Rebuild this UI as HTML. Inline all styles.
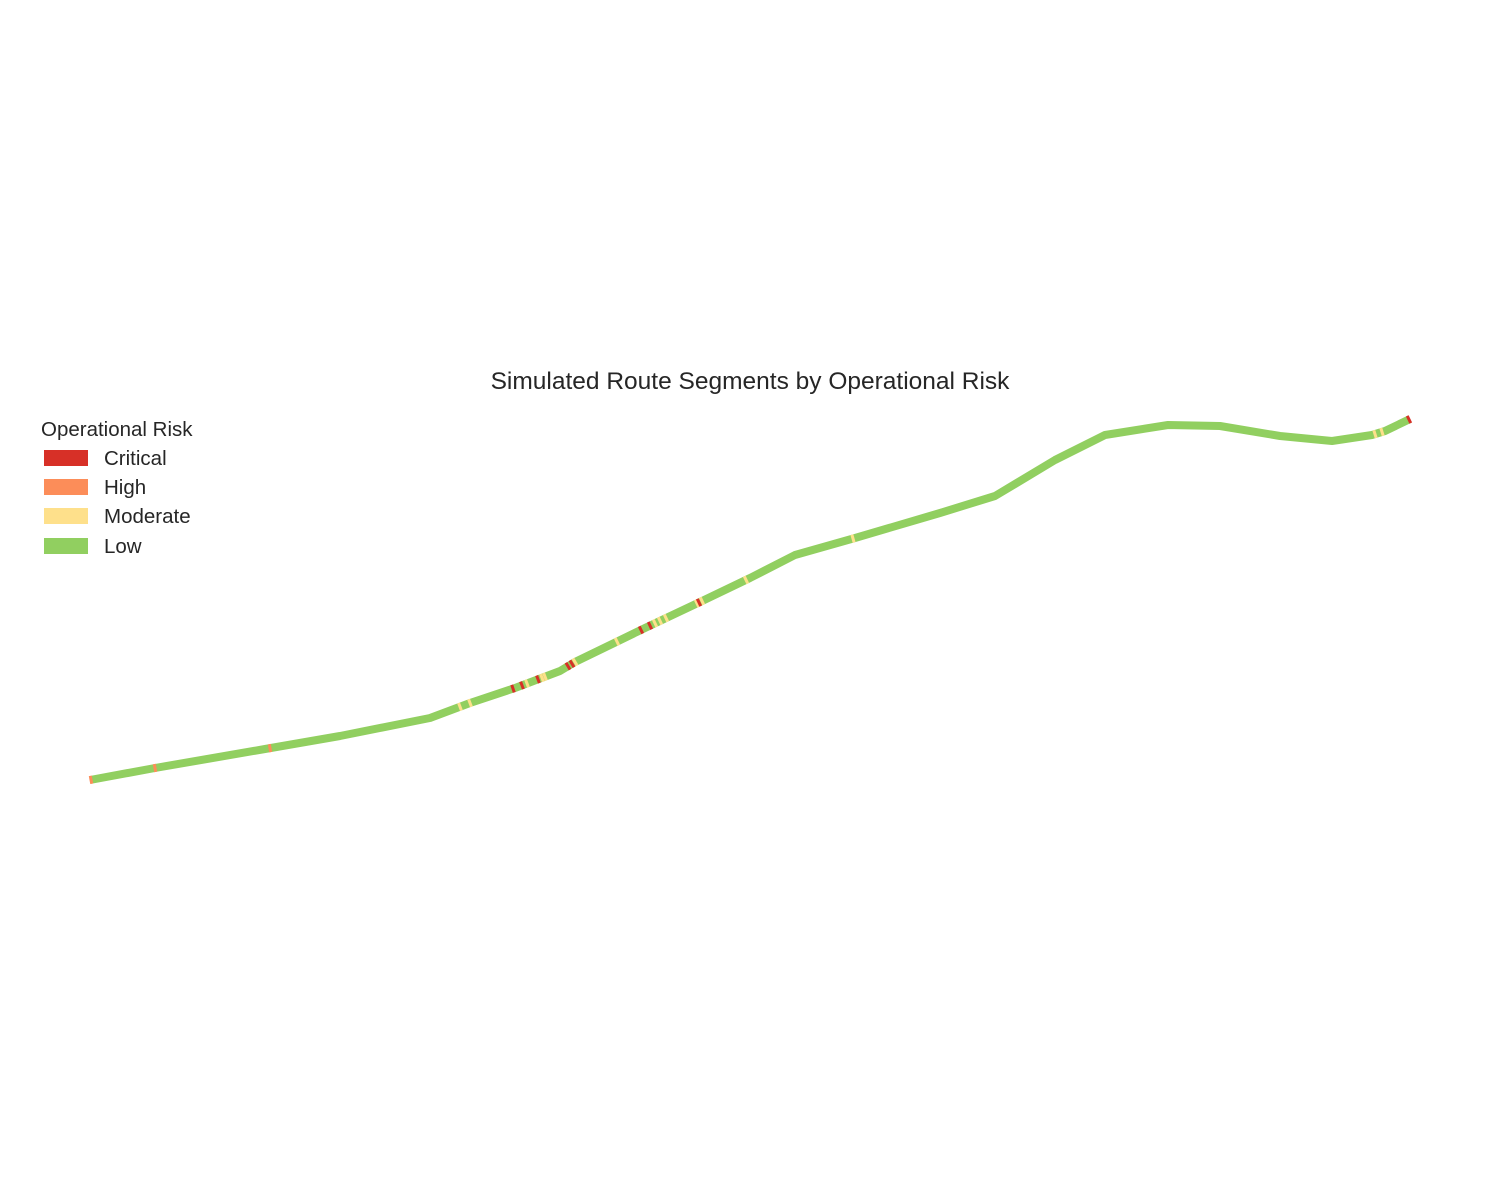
<!DOCTYPE html>
<html><head><meta charset="utf-8"><style>
body{margin:0;background:#fff;}
svg{display:block;font-family:"Liberation Sans",Arial,sans-serif;}
</style></head><body>
<svg id="chart" width="1500" height="1200">
<rect width="1500" height="1200" fill="#fff"/>
<text x="750" y="389" text-anchor="middle" font-size="24.5" fill="#262626">Simulated Route Segments by Operational Risk</text>
<g id="route"></g>
<g>
<text x="41" y="436" font-size="20.5" fill="#262626">Operational Risk</text>
<rect x="44" y="450" width="44" height="16" fill="#d73027"/>
<text x="104" y="465" font-size="20.5" fill="#262626">Critical</text>
<rect x="44" y="479" width="44" height="16" fill="#fc8d59"/>
<text x="104" y="494" font-size="20.5" fill="#262626">High</text>
<rect x="44" y="508" width="44" height="16" fill="#fee08b"/>
<text x="104" y="523" font-size="20.5" fill="#262626">Moderate</text>
<rect x="44" y="538" width="44" height="16" fill="#91cf60"/>
<text x="104" y="553" font-size="20.5" fill="#262626">Low</text>
</g>
</svg>
<script>
const routeX=[90,155,265,340,430,470,515,560,575,645,700,750,795,855,940,995,1055,1105,1168,1220,1280,1332,1372,1385,1410];
const routeY=[780,768,749,736,718,703,688,671,662,628,602,578,555,538,513,496,460,435,425,426,436,441,435,431,419];
const hiX=[91,155,270,460,470,513,522,527,538,542,545,568,572,575,617,641,650,655,660,666,697,699,702,746,853,1375,1382,1409];
const hiRisk=["High","High","High","Moderate","Moderate","Critical","Critical","Moderate","Critical","Moderate","Moderate","Critical","Critical","Moderate","Moderate","Critical","Critical","Moderate","Moderate","Moderate","Moderate","Critical","Moderate","Moderate","Moderate","Moderate","Moderate","Critical"];
const colors={Critical:"#d73027",High:"#fc8d59",Moderate:"#fee08b",Low:"#91cf60"};
const NS="http://www.w3.org/2000/svg";
const g=document.getElementById('route');
const base=document.createElementNS(NS,'polyline');
base.setAttribute('points',routeX.map((x,i)=>x+','+routeY[i]).join(' '));
base.setAttribute('fill','none');base.setAttribute('stroke',colors.Low);
base.setAttribute('stroke-width','8');base.setAttribute('stroke-linejoin','round');


g.appendChild(base);
function locate(x){
  for(let i=0;i<routeX.length-1;i++){
    if(x>=routeX[i]&&x<=routeX[i+1]){
      const t=(x-routeX[i])/(routeX[i+1]-routeX[i]);
      const dx=routeX[i+1]-routeX[i],dy=routeY[i+1]-routeY[i],L=Math.hypot(dx,dy);
      return {x:x,y:routeY[i]+t*dy,ux:dx/L,uy:dy/L};
    }
  }
  return {x:x,y:routeY[routeY.length-1],ux:1,uy:0};
}
hiX.forEach((x,i)=>{
  const p=locate(x);
  const l=document.createElementNS(NS,'line');
  l.setAttribute('x1',p.x-1.5*p.ux);l.setAttribute('y1',p.y-1.5*p.uy);
  l.setAttribute('x2',p.x+1.5*p.ux);l.setAttribute('y2',p.y+1.5*p.uy);
  l.setAttribute('stroke',colors[hiRisk[i]]);l.setAttribute('stroke-width','8');
  
  
  g.appendChild(l);
});
</script>
</body></html>
